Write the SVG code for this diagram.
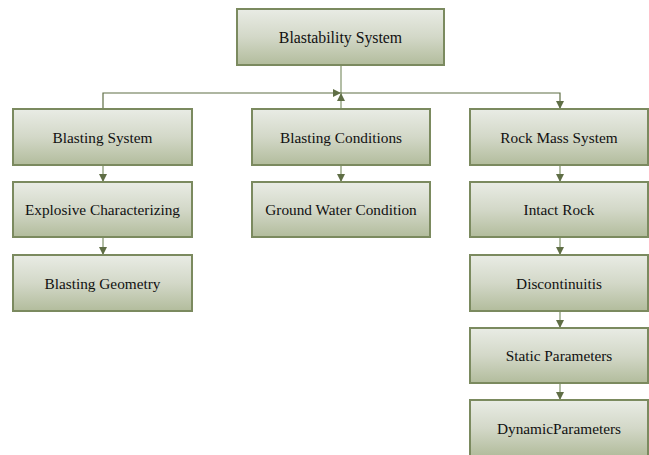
<svg xmlns="http://www.w3.org/2000/svg" width="649" height="455" viewBox="0 0 649 455">
<defs>
<linearGradient id="g" x1="0" y1="0" x2="0" y2="1">
<stop offset="0" stop-color="#e9ece5"/>
<stop offset="0.5" stop-color="#d3d8c8"/>
<stop offset="1" stop-color="#b2bc9c"/>
</linearGradient>
<marker id="ah" viewBox="0 0 10 10" refX="10" refY="5" markerWidth="8" markerHeight="8" markerUnits="userSpaceOnUse" orient="auto">
<path d="M0,0 L10,5 L0,10 z" fill="#5f6e45"/>
</marker>
<style>
.box{fill:url(#g);stroke:#7b8a5f;stroke-width:2}
.t{font-family:'Liberation Serif','Times New Roman',serif;font-size:15.3px;fill:#111;text-anchor:middle}
.c{fill:none;stroke:#5f6e45;stroke-width:1.2}
.cl{fill:none;stroke:#9aa888;stroke-width:1.5}
</style>
</defs>
<g id="connectors">
<path class="cl" d="M341,65 V93"/>
<path class="c" d="M103,109 V93 H341" marker-end="url(#ah)"/>
<path class="cl" d="M341,109 V93" marker-end="url(#ah)"/>
<path class="c" d="M341,93 H560 V109" marker-end="url(#ah)"/>
<path class="cl" d="M103,165 V182" marker-end="url(#ah)"/>
<path class="cl" d="M103,237 V255" marker-end="url(#ah)"/>
<path class="cl" d="M341,165 V182" marker-end="url(#ah)"/>
<path class="cl" d="M560,165 V182" marker-end="url(#ah)"/>
<path class="cl" d="M560,237 V255" marker-end="url(#ah)"/>
<path class="cl" d="M560,311 V328" marker-end="url(#ah)"/>
<path class="cl" d="M560,383 V400" marker-end="url(#ah)"/>
</g>
<g id="n-blastability"><rect class="box" x="237" y="9" width="207" height="56"/><text class="t" x="340.5" y="42.5" style="font-size:15.8px">Blastability System</text></g>
<g id="n-blasting-system"><rect class="box" x="13" y="109" width="179" height="56"/><text class="t" x="102.5" y="142.5">Blasting System</text></g>
<g id="n-explosive"><rect class="box" x="13" y="182" width="179" height="55"/><text class="t" x="102.5" y="215">Explosive Characterizing</text></g>
<g id="n-geometry"><rect class="box" x="13" y="255" width="179" height="56"/><text class="t" x="102.5" y="288.5">Blasting Geometry</text></g>
<g id="n-conditions"><rect class="box" x="252" y="109" width="178" height="56"/><text class="t" x="341" y="142.5">Blasting Conditions</text></g>
<g id="n-groundwater"><rect class="box" x="252" y="182" width="178" height="55"/><text class="t" x="341" y="215">Ground Water Condition</text></g>
<g id="n-rockmass"><rect class="box" x="470" y="109" width="178" height="56"/><text class="t" x="559" y="142.5">Rock Mass System</text></g>
<g id="n-intact"><rect class="box" x="470" y="182" width="178" height="55"/><text class="t" x="559" y="215">Intact Rock</text></g>
<g id="n-discont"><rect class="box" x="470" y="255" width="178" height="56"/><text class="t" x="559" y="288.5">Discontinuitis</text></g>
<g id="n-static"><rect class="box" x="470" y="328" width="178" height="55"/><text class="t" x="559" y="361">Static Parameters</text></g>
<g id="n-dynamic"><rect class="box" x="470" y="400" width="178" height="56"/><text class="t" x="559" y="433.5">DynamicParameters</text></g>
</svg>
